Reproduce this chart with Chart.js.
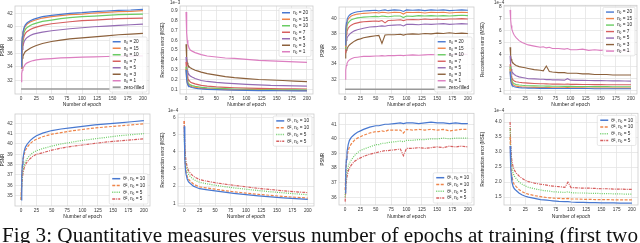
<!DOCTYPE html>
<html>
<head>
<meta charset="utf-8">
<script src="https://cdn.jsdelivr.net/npm/chart.js@4"></script>
<style>
  body { margin: 0; background: #fff; width: 640px; height: 243px; overflow: hidden; position: relative; }
  canvas { position: absolute; }
  #caption { position: absolute; left: 0; top: 218px; }
</style>
</head>
<body>
<canvas id="p1"></canvas><canvas id="p2"></canvas><canvas id="p3"></canvas><canvas id="p4"></canvas>
<canvas id="p5"></canvas><canvas id="p6"></canvas><canvas id="p7"></canvas><canvas id="p8"></canvas>
<svg id="caption" width="640" height="25"><text x="2" y="23.5" textLength="636" lengthAdjust="spacingAndGlyphs" font-family="Liberation Serif" font-size="20.5" fill="#111">Fig 3: Quantitative measures versus number of epochs at training (first two</text></svg>
<script>
// epochs sampled from the curves (smooth panels / noisy panels)
const epochsA = [0, 1, 2, 3, 5, 7, 10, 15, 20, 25, 35, 50, 65, 80, 100, 120, 140, 160, 180, 200];
const epochsB = [0, 1, 2, 3, 5, 7, 10, 15, 20, 25, 30, 40, 50, 55, 60, 65, 70, 80, 90, 95, 100, 110, 120, 130, 140, 150, 160, 170, 180, 190, 200];
const zeroEpochs = [0, 200];
const epochTicks = [0, 25, 50, 75, 100, 125, 150, 175, 200];

const nLabels = ['n_θ = 20', 'n_θ = 15', 'n_θ = 10', 'n_θ = 7', 'n_θ = 5', 'n_θ = 3', 'n_θ = 1'];
const zeroLabel = 'zero-filled';
const thetaLabels = ['θ¹, n_θ = 10', 'θ², n_θ = 10', 'θ¹, n_θ = 5', 'θ², n_θ = 5'];

// panel 1: PSNR (top left)
const psnr1 = [
  [34.0, 37.2, 38.5, 39.2, 39.9, 40.3, 40.6, 40.9, 41.1, 41.25, 41.5, 41.7, 41.85, 42.0, 42.1, 42.25, 42.35, 42.45, 42.5, 42.6],
  [33.9, 37.0, 38.3, 39.0, 39.7, 40.1, 40.4, 40.7, 40.9, 41.05, 41.3, 41.5, 41.65, 41.8, 41.9, 42.05, 42.15, 42.25, 42.3, 42.4],
  [33.9, 36.5, 37.8, 38.5, 39.2, 39.6, 39.9, 40.2, 40.4, 40.55, 40.8, 41.0, 41.2, 41.35, 41.5, 41.6, 41.7, 41.8, 41.85, 41.9],
  [33.8, 36.0, 37.2, 37.9, 38.6, 39.0, 39.3, 39.6, 39.8, 39.95, 40.2, 40.45, 40.6, 40.75, 40.9, 41.0, 41.1, 41.2, 41.25, 41.3],
  [33.8, 35.6, 36.6, 37.2, 37.8, 38.1, 38.4, 38.7, 38.9, 39.0, 39.2, 39.4, 39.55, 39.7, 39.85, 40.0, 40.1, 40.2, 40.3, 40.4],
  [33.8, 34.8, 35.3, 35.6, 36.0, 36.3, 36.5, 36.8, 37.0, 37.2, 37.5, 37.8, 38.0, 38.2, 38.35, 38.5, 38.65, 38.8, 38.9, 39.0],
  [31.8, 33.0, 33.5, 33.8, 34.1, 34.4, 34.6, 34.8, 34.95, 35.05, 35.15, 35.25, 35.35, 35.4, 35.45, 35.5, 35.55, 35.6, 35.6, 35.65]
];
const zeroFilled1 = [30.7, 30.7];
const psnrTicks1 = [32, 34, 36, 38, 40, 42];

// panel 2: MSE x1e-3
const mse2 = [
  [0.3, 0.2, 0.16, 0.145, 0.132, 0.124, 0.118, 0.111, 0.107, 0.104, 0.1, 0.096, 0.093, 0.091, 0.089, 0.087, 0.086, 0.085, 0.084, 0.083],
  [0.31, 0.21, 0.17, 0.155, 0.14, 0.132, 0.126, 0.119, 0.114, 0.11, 0.105, 0.1, 0.097, 0.095, 0.093, 0.091, 0.09, 0.089, 0.088, 0.087],
  [0.33, 0.23, 0.19, 0.17, 0.155, 0.145, 0.138, 0.13, 0.125, 0.12, 0.115, 0.11, 0.106, 0.103, 0.1, 0.098, 0.096, 0.095, 0.094, 0.093],
  [0.38, 0.27, 0.23, 0.21, 0.19, 0.175, 0.165, 0.155, 0.148, 0.14, 0.133, 0.125, 0.12, 0.116, 0.112, 0.109, 0.107, 0.105, 0.104, 0.103],
  [0.43, 0.33, 0.29, 0.27, 0.25, 0.235, 0.225, 0.21, 0.2, 0.19, 0.18, 0.17, 0.163, 0.157, 0.15, 0.145, 0.14, 0.138, 0.135, 0.133],
  [0.56, 0.42, 0.37, 0.35, 0.33, 0.32, 0.31, 0.295, 0.285, 0.275, 0.26, 0.245, 0.23, 0.22, 0.21, 0.2, 0.195, 0.19, 0.183, 0.178],
  [0.89, 0.68, 0.60, 0.56, 0.52, 0.50, 0.49, 0.475, 0.465, 0.455, 0.44, 0.43, 0.42, 0.415, 0.405, 0.395, 0.39, 0.385, 0.38, 0.375]
];
const mseTicks2 = [0.1, 0.2, 0.3, 0.4, 0.5, 0.6, 0.7, 0.8, 0.9];

// panel 3: PSNR (noisy)
const psnr3 = [
  [36.5, 38.6, 39.4, 39.8, 40.2, 40.4, 40.6, 40.75, 40.85, 40.9, 40.95, 41.0, 41.05, 40.95, 41.05, 41.1, 41.0, 41.1, 41.05, 40.9, 41.1, 41.05, 41.1, 41.0, 41.1, 41.05, 41.1, 41.0, 41.05, 41.1, 41.05],
  [36.3, 38.3, 39.1, 39.5, 39.9, 40.1, 40.3, 40.45, 40.55, 40.6, 40.65, 40.7, 40.75, 40.7, 40.8, 40.75, 40.7, 40.8, 40.75, 40.55, 40.8, 40.75, 40.8, 40.7, 40.8, 40.75, 40.8, 40.7, 40.75, 40.8, 40.75],
  [36.0, 37.8, 38.6, 39.0, 39.4, 39.6, 39.8, 39.95, 40.05, 40.1, 40.15, 40.2, 40.25, 40.2, 40.3, 40.25, 40.2, 40.3, 40.3, 40.1, 40.3, 40.25, 40.35, 40.3, 40.35, 40.3, 40.35, 40.3, 40.35, 40.4, 40.35],
  [35.5, 37.2, 37.9, 38.3, 38.7, 38.9, 39.1, 39.3, 39.4, 39.5, 39.55, 39.6, 39.65, 39.6, 39.7, 39.4, 39.7, 39.75, 39.8, 39.7, 39.8, 39.85, 39.8, 39.9, 39.85, 39.9, 39.85, 39.9, 39.9, 39.95, 39.9],
  [35.8, 36.6, 37.1, 37.4, 37.7, 37.9, 38.1, 38.35, 38.5, 38.6, 38.7, 38.85, 38.9, 38.95, 39.0, 38.95, 39.05, 39.1, 39.15, 39.0, 39.2, 39.2, 39.15, 39.25, 39.2, 39.25, 39.3, 39.2, 39.25, 39.3, 39.25],
  [34.8, 35.4, 35.8, 36.0, 36.3, 36.5, 36.7, 37.0, 37.2, 37.3, 37.45, 37.6, 37.7, 37.75, 36.7, 37.8, 37.85, 37.85, 37.9, 37.8, 37.9, 37.95, 37.9, 38.0, 37.95, 38.05, 38.0, 38.1, 38.0, 38.05, 38.0],
  [32.0, 33.2, 33.8, 34.1, 34.4, 34.55, 34.7, 34.85, 34.9, 34.95, 35.0, 35.0, 35.05, 35.05, 35.1, 35.05, 35.1, 35.1, 35.15, 35.1, 35.15, 35.2, 35.15, 35.2, 35.25, 35.2, 35.25, 35.2, 35.25, 35.3, 35.25]
];
const zeroFilled3 = [30.7, 30.7];
const psnrTicks3 = [32, 34, 36, 38, 40];

// panel 4: MSE x1e-4 (noisy)
const mse4 = [
  [2.6, 1.85, 1.6, 1.48, 1.38, 1.33, 1.29, 1.26, 1.24, 1.23, 1.22, 1.21, 1.2, 1.2, 1.2, 1.19, 1.19, 1.19, 1.18, 1.19, 1.18, 1.18, 1.18, 1.18, 1.17, 1.17, 1.17, 1.17, 1.17, 1.17, 1.17],
  [2.8, 2.0, 1.75, 1.6, 1.5, 1.43, 1.38, 1.34, 1.31, 1.3, 1.29, 1.28, 1.27, 1.27, 1.26, 1.26, 1.25, 1.25, 1.25, 1.26, 1.24, 1.24, 1.24, 1.23, 1.23, 1.23, 1.23, 1.22, 1.22, 1.22, 1.22],
  [3.0, 2.2, 1.95, 1.8, 1.65, 1.58, 1.52, 1.48, 1.45, 1.43, 1.42, 1.4, 1.39, 1.39, 1.38, 1.38, 1.37, 1.37, 1.36, 1.37, 1.36, 1.35, 1.35, 1.35, 1.34, 1.34, 1.34, 1.33, 1.33, 1.33, 1.33],
  [3.2, 2.5, 2.2, 2.05, 1.9, 1.8, 1.75, 1.7, 1.67, 1.65, 1.63, 1.6, 1.58, 1.58, 1.57, 1.56, 1.55, 1.55, 1.54, 1.56, 1.53, 1.53, 1.52, 1.52, 1.51, 1.51, 1.5, 1.5, 1.5, 1.5, 1.5],
  [3.9, 3.1, 2.8, 2.6, 2.45, 2.35, 2.25, 2.15, 2.1, 2.05, 2.0, 1.98, 1.95, 1.95, 1.92, 1.93, 1.9, 1.9, 1.88, 2.0, 1.88, 1.86, 1.86, 1.85, 1.84, 1.84, 1.83, 1.82, 1.82, 1.81, 1.8],
  [4.6, 3.9, 3.6, 3.45, 3.3, 3.2, 3.1, 3.0, 2.95, 2.9, 2.85, 2.75, 2.7, 2.65, 3.05, 2.6, 2.55, 2.5, 2.5, 2.45, 2.45, 2.45, 2.4, 2.4, 2.35, 2.35, 2.35, 2.3, 2.3, 2.3, 2.3],
  [7.7, 6.9, 6.4, 6.1, 5.8, 5.6, 5.4, 5.15, 5.0, 4.9, 4.8, 4.7, 4.6, 4.65, 4.55, 4.6, 4.5, 4.5, 4.45, 4.5, 4.4, 4.4, 4.45, 4.35, 4.4, 4.35, 4.4, 4.3, 4.35, 4.3, 4.25]
];
const mseTicks4 = [1, 2, 3, 4, 5, 6, 7, 8];

// panel 5: PSNR, theta comparison
const psnr5 = [
  [34.6, 37.0, 38.0, 38.6, 39.3, 39.7, 40.0, 40.35, 40.6, 40.8, 41.05, 41.3, 41.45, 41.55, 41.7, 41.85, 41.95, 42.05, 42.15, 42.25],
  [34.6, 36.8, 37.8, 38.4, 39.0, 39.4, 39.7, 40.05, 40.3, 40.45, 40.7, 40.95, 41.1, 41.25, 41.4, 41.55, 41.65, 41.75, 41.85, 41.95],
  [34.6, 36.0, 36.9, 37.4, 38.0, 38.3, 38.6, 38.95, 39.2, 39.35, 39.55, 39.8, 40.0, 40.15, 40.35, 40.5, 40.65, 40.8, 40.9, 41.0],
  [34.6, 35.9, 36.7, 37.2, 37.7, 38.0, 38.3, 38.6, 38.85, 39.0, 39.15, 39.4, 39.6, 39.75, 39.9, 40.05, 40.2, 40.3, 40.4, 40.5]
];
const psnrTicks5 = [35, 36, 37, 38, 39, 40, 41, 42];

// panel 6: MSE x1e-4, theta comparison
const mse6 = [
  [5.5, 3.6, 3.0, 2.7, 2.4, 2.25, 2.15, 2.0, 1.92, 1.85, 1.8, 1.72, 1.65, 1.58, 1.5, 1.43, 1.37, 1.32, 1.27, 1.23],
  [5.8, 3.8, 3.15, 2.85, 2.55, 2.4, 2.28, 2.12, 2.03, 1.96, 1.9, 1.82, 1.74, 1.67, 1.59, 1.52, 1.46, 1.4, 1.35, 1.3],
  [5.0, 4.0, 3.5, 3.2, 2.9, 2.7, 2.55, 2.4, 2.3, 2.22, 2.15, 2.05, 1.97, 1.9, 1.82, 1.74, 1.67, 1.61, 1.55, 1.5],
  [5.8, 4.3, 3.8, 3.45, 3.1, 2.9, 2.75, 2.57, 2.47, 2.38, 2.3, 2.2, 2.12, 2.05, 1.96, 1.87, 1.8, 1.73, 1.67, 1.62]
];
const mseTicks6 = [1, 2, 3, 4, 5, 6];

// panel 7: PSNR, theta comparison (noisy)
const psnr7 = [
  [36.3, 37.8, 38.6, 39.1, 39.6, 39.9, 40.1, 40.3, 40.45, 40.55, 40.65, 40.8, 40.9, 40.9, 40.95, 41.0, 41.0, 41.05, 41.1, 41.05, 41.1, 41.1, 41.05, 41.1, 41.15, 41.1, 41.1, 41.05, 41.1, 41.05, 41.05],
  [36.5, 37.7, 38.4, 38.8, 39.2, 39.45, 39.65, 39.9, 40.05, 40.15, 40.25, 40.4, 40.5, 40.5, 40.55, 40.5, 40.6, 40.6, 40.6, 40.4, 40.65, 40.6, 40.65, 40.6, 40.65, 40.6, 40.65, 40.55, 40.6, 40.65, 40.65],
  [36.0, 36.9, 37.4, 37.7, 38.1, 38.35, 38.55, 38.85, 39.05, 39.2, 39.3, 39.45, 39.6, 39.6, 39.7, 39.7, 39.75, 39.8, 39.85, 39.8, 39.9, 39.9, 39.95, 39.95, 40.0, 40.0, 40.05, 40.0, 40.05, 40.05, 40.05],
  [35.7, 36.6, 37.1, 37.4, 37.8, 38.0, 38.2, 38.45, 38.6, 38.7, 38.8, 38.95, 39.05, 39.1, 39.15, 39.2, 39.2, 39.25, 39.3, 38.85, 39.35, 39.35, 39.4, 39.35, 39.4, 39.45, 39.4, 39.5, 39.45, 39.5, 39.45]
];
const psnrTicks7 = [36, 37, 38, 39, 40, 41];

// panel 8: MSE x1e-4, theta comparison (noisy)
const mse8 = [
  [3.2, 2.5, 2.2, 2.0, 1.85, 1.78, 1.72, 1.63, 1.57, 1.53, 1.5, 1.46, 1.42, 1.41, 1.4, 1.39, 1.38, 1.36, 1.35, 1.35, 1.34, 1.33, 1.33, 1.32, 1.32, 1.31, 1.31, 1.31, 1.3, 1.3, 1.3],
  [3.5, 2.7, 2.4, 2.2, 2.0, 1.92, 1.85, 1.75, 1.68, 1.63, 1.6, 1.55, 1.52, 1.5, 1.49, 1.48, 1.47, 1.46, 1.45, 1.46, 1.44, 1.44, 1.43, 1.43, 1.42, 1.42, 1.42, 1.41, 1.41, 1.41, 1.41],
  [3.8, 3.0, 2.7, 2.5, 2.3, 2.2, 2.12, 2.0, 1.93, 1.87, 1.83, 1.78, 1.74, 1.72, 1.71, 1.7, 1.68, 1.67, 1.66, 1.68, 1.65, 1.64, 1.64, 1.63, 1.63, 1.62, 1.62, 1.61, 1.61, 1.6, 1.6],
  [4.0, 3.2, 2.9, 2.7, 2.5, 2.4, 2.3, 2.2, 2.12, 2.06, 2.02, 1.97, 1.93, 1.92, 1.9, 1.88, 1.87, 1.85, 1.83, 2.0, 1.82, 1.81, 1.8, 1.8, 1.79, 1.78, 1.78, 1.77, 1.77, 1.76, 1.76]
];
const mseTicks8 = [1.5, 2.0, 2.5, 3.0, 3.5, 4.0];

// styles (seaborn muted palette)
const nColors = ['#4878D0', '#EE854A', '#6ACC64', '#D65F5F', '#956CB4', '#8C613C', '#DC7EC0'];
const zeroColor = '#999999';
const thetaColors = ['#4878D0', '#EE854A', '#6ACC64', '#D65F5F'];
const thetaDash = [[], [3, 1.5], [1, 1.2], [3, 1, 1, 1]];
const FONT = "'Liberation Sans', Arial, sans-serif";

function toPoints(xs, ys) { return xs.map((x, i) => ({ x: x, y: ys[i] })); }

function drawLabel(ctx, label, x, y, fs, measureOnly) {
  const i = label.indexOf('_θ');
  ctx.font = fs + 'px ' + FONT;
  if (i < 0) { if (!measureOnly) ctx.fillText(label, x, y); return ctx.measureText(label).width; }
  const pre = label.slice(0, i), post = label.slice(i + 2);
  let w = 0;
  if (!measureOnly) ctx.fillText(pre, x, y);
  w += ctx.measureText(pre).width;
  ctx.font = (fs * 0.7) + 'px ' + FONT;
  if (!measureOnly) ctx.fillText('θ', x + w, y + fs * 0.3);
  w += ctx.measureText('θ').width;
  ctx.font = fs + 'px ' + FONT;
  if (!measureOnly) ctx.fillText(post, x + w, y);
  w += ctx.measureText(post).width;
  return w;
}

const panelPlugin = {
  id: 'panel',
  afterDatasetsDraw(chart, args, opts) {
    const ctx = chart.ctx, a = chart.chartArea;
    ctx.save();
    ctx.strokeStyle = '#cccccc';
    ctx.lineWidth = 0.8;
    ctx.strokeRect(a.left, a.top, a.right - a.left, a.bottom - a.top);
    if (opts.offset) {
      ctx.fillStyle = '#333';
      ctx.font = '4.5px ' + FONT;
      ctx.textAlign = 'left';
      ctx.textBaseline = 'bottom';
      ctx.fillText(opts.offset, a.left - 10, a.top - 0.5);
    }
    // legend
    const ds = chart.data.datasets;
    const fs = 4.7, rowH = opts.rowH || 6.5;
    ctx.textAlign = 'left';
    ctx.textBaseline = 'middle';
    let maxW = 0;
    ds.forEach(d => { maxW = Math.max(maxW, drawLabel(ctx, d.label, 0, 0, fs, true)); });
    const w = 3 + 8 + 3 + maxW + 3;
    const h = ds.length * rowH + 3;
    const x0 = a.right - 2 - w;
    const y0 = opts.pos === 'br' ? a.bottom - 2 - h : a.top + 2;
    ctx.beginPath();
    ctx.roundRect(x0, y0, w, h, 1.5);
    ctx.fillStyle = 'rgba(255,255,255,0.85)';
    ctx.fill();
    ctx.strokeStyle = '#d6d6d6';
    ctx.lineWidth = 0.6;
    ctx.stroke();
    ds.forEach((d, i) => {
      const y = y0 + 1.5 + rowH * (i + 0.5);
      ctx.beginPath();
      ctx.setLineDash(d.borderDash || []);
      ctx.strokeStyle = d.borderColor;
      ctx.lineWidth = d.borderWidth + 0.3;
      ctx.moveTo(x0 + 3, y);
      ctx.lineTo(x0 + 11, y);
      ctx.stroke();
      ctx.setLineDash([]);
      ctx.fillStyle = '#222';
      drawLabel(ctx, d.label, x0 + 14, y, fs, false);
    });
    ctx.restore();
  }
};

function makeChart(id, box, plot, yCfg, datasets, pluginOpts) {
  const cv = document.getElementById(id);
  cv.width = box.w; cv.height = box.h;
  cv.style.left = box.x + 'px'; cv.style.top = box.y + 'px';
  cv.style.width = box.w + 'px'; cv.style.height = box.h + 'px';
  const yw = plot.l - box.x, xh = box.y + box.h - plot.b;
  return new Chart(cv.getContext('2d'), {
    type: 'line',
    data: { datasets: datasets },
    options: {
      responsive: false,
      animation: false,
      devicePixelRatio: 1,
      layout: { padding: { top: plot.t - box.y, right: box.x + box.w - plot.r, left: 0, bottom: 0 } },
      elements: { point: { radius: 0 }, line: { tension: 0 } },
      plugins: { legend: { display: false }, tooltip: { enabled: false }, panel: pluginOpts },
      scales: {
        x: {
          type: 'linear', min: -10, max: 210,
          afterBuildTicks: s => { s.ticks = epochTicks.map(v => ({ value: v })); },
          afterFit: s => { s.height = xh; },
          grid: { color: '#e4e4e4', lineWidth: 0.8, drawTicks: false },
          border: { display: false },
          ticks: { font: { size: 4.7, family: FONT }, color: '#333', padding: 2, maxRotation: 0 },
          title: { display: true, text: 'Number of epoch', font: { size: 5, family: FONT }, color: '#222', padding: { top: 0.5, bottom: 0 } }
        },
        y: {
          type: 'linear', min: yCfg.min, max: yCfg.max,
          afterBuildTicks: s => { s.ticks = yCfg.ticks.map(v => ({ value: v })); },
          afterFit: s => { s.width = yw; },
          grid: { color: '#e4e4e4', lineWidth: 0.8, drawTicks: false },
          border: { display: false },
          ticks: { font: { size: 4.7, family: FONT }, color: '#333', padding: 2.5, callback: v => v.toFixed(yCfg.dec) },
          title: { display: true, text: yCfg.title, font: { size: 4.5, family: FONT }, color: '#222', padding: { top: 0, bottom: 1 } }
        }
      }
    },
    plugins: [panelPlugin]
  });
}

function nSets(xs, series, zeroVals, width) {
  const sets = series.map((s, i) => ({
    label: nLabels[i], data: toPoints(xs, s), borderColor: nColors[i], borderWidth: width, borderDash: []
  }));
  if (zeroVals) sets.push({ label: zeroLabel, data: toPoints(zeroEpochs, zeroVals), borderColor: zeroColor, borderWidth: 1.5, borderDash: [] });
  return sets;
}
function thetaSets(xs, series) {
  return series.map((s, i) => ({
    label: thetaLabels[i], data: toPoints(xs, s), borderColor: thetaColors[i], borderWidth: 1.2, borderDash: thetaDash[i]
  }));
}

const TOP = { y: 0, h: 108 }, BOT = { y: 108, h: 112 };

makeChart('p1', { x: 0, y: TOP.y, w: 160, h: TOP.h }, { l: 15, r: 149, t: 6, b: 94 },
  { min: 29.95, max: 43.1, ticks: psnrTicks1, dec: 0, title: 'PSNR' },
  nSets(epochsA, psnr1, zeroFilled1, 1.2), { pos: 'br' });

makeChart('p2', { x: 160, y: TOP.y, w: 160, h: TOP.h }, { l: 180, r: 313, t: 6, b: 94 },
  { min: 0.052, max: 0.951, ticks: mseTicks2, dec: 1, title: 'Reconstruction error (MSE)' },
  nSets(epochsA, mse2, null, 1.2), { pos: 'tr', offset: '1e−3' });

makeChart('p3', { x: 320, y: TOP.y, w: 160, h: TOP.h }, { l: 339, r: 474, t: 7, b: 94 },
  { min: 30.07, max: 41.48, ticks: psnrTicks3, dec: 0, title: 'PSNR' },
  nSets(epochsB, psnr3, zeroFilled3, 1.1), { pos: 'br' });

makeChart('p4', { x: 480, y: TOP.y, w: 160, h: TOP.h }, { l: 504, r: 637, t: 3, b: 94 },
  { min: 0.73, max: 8.08, ticks: mseTicks4, dec: 0, title: 'Reconstruction error (MSE)' },
  nSets(epochsB, mse4, null, 1.1), { pos: 'tr', offset: '1e−4' });

makeChart('p5', { x: 0, y: BOT.y, w: 160, h: BOT.h }, { l: 15, r: 150, t: 114, b: 206 },
  { min: 34.0, max: 42.9, ticks: psnrTicks5, dec: 0, title: 'PSNR' },
  thetaSets(epochsA, psnr5), { pos: 'br', rowH: 6.8 });

makeChart('p6', { x: 160, y: BOT.y, w: 160, h: BOT.h }, { l: 178, r: 314, t: 114, b: 206 },
  { min: 0.84, max: 6.21, ticks: mseTicks6, dec: 0, title: 'Reconstruction error (MSE)' },
  thetaSets(epochsA, mse6), { pos: 'tr', rowH: 6.8, offset: '1e−4' });

makeChart('p7', { x: 320, y: BOT.y, w: 160, h: BOT.h }, { l: 339, r: 474, t: 113, b: 205 },
  { min: 35.47, max: 41.75, ticks: psnrTicks7, dec: 0, title: 'PSNR' },
  thetaSets(epochsB, psnr7), { pos: 'br', rowH: 6.8 });

makeChart('p8', { x: 480, y: BOT.y, w: 160, h: BOT.h }, { l: 504, r: 638, t: 113, b: 205 },
  { min: 1.24, max: 4.29, ticks: mseTicks8, dec: 1, title: 'Reconstruction error (MSE)' },
  thetaSets(epochsB, mse8), { pos: 'tr', rowH: 6.8, offset: '1e−4' });
</script>
</body>
</html>
